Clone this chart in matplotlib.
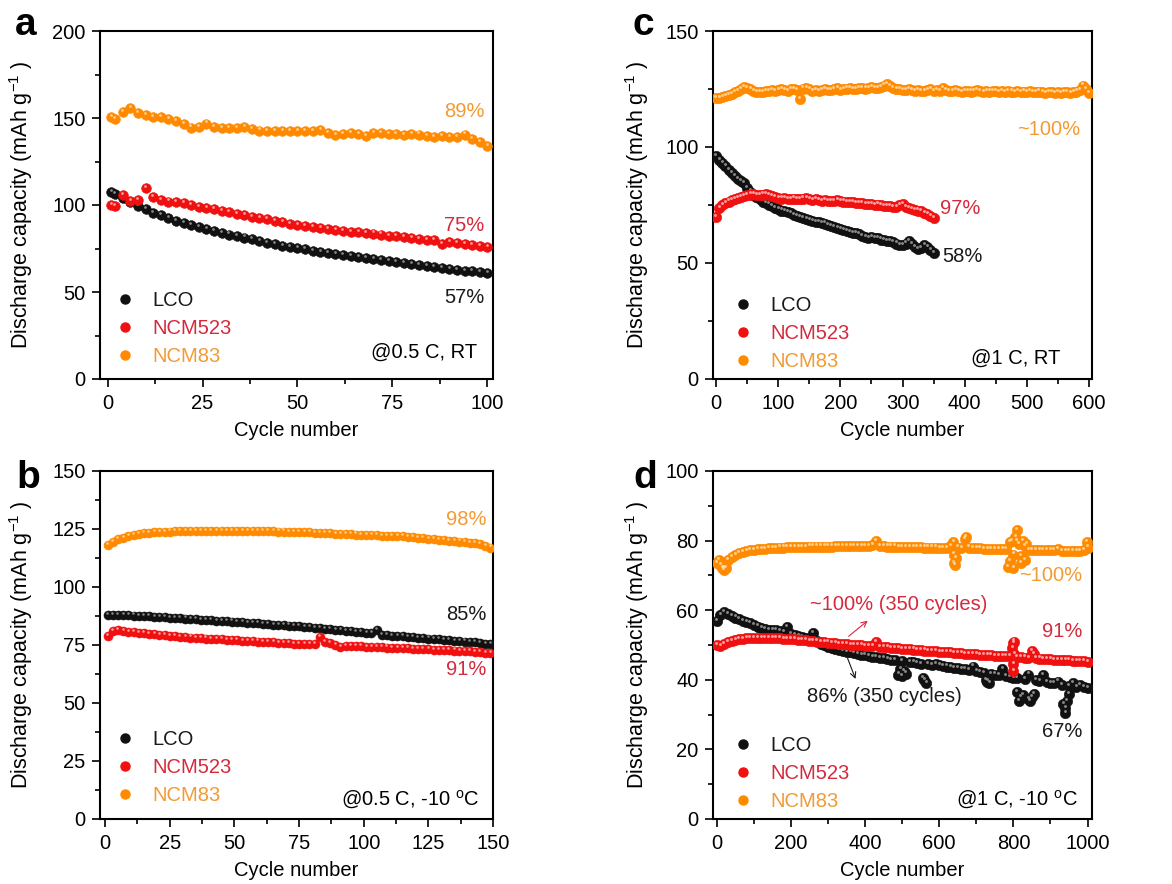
import numpy as np
import matplotlib
matplotlib.use("Agg")
import matplotlib.pyplot as plt
from matplotlib.ticker import MultipleLocator
from matplotlib.transforms import ScaledTranslation
from matplotlib.lines import Line2D

plt.rcParams['font.family'] = ['Liberation Sans', 'DejaVu Sans']
plt.rcParams['mathtext.fontset'] = 'custom'
plt.rcParams['mathtext.rm'] = 'Liberation Sans'
plt.rcParams['mathtext.default'] = 'regular'

SERIES = ["LCO", "NCM523", "NCM83"]

# ---------------- panel a: 0.5 C, RT ----------------
A_CYC = np.r_[1, np.arange(2, 101, 2)]
A_LCO = [107.5, 106.5, 104, 101.5, 99.5, 97.8,
         95.5, 94, 92.5, 91, 89.8, 88.5, 87.3, 86.2, 85, 84,
         83, 82.2, 81.3, 80.2, 79.3, 78.2, 77.3, 76.5, 75.8, 75.2,
         74.5, 73.8, 73.1, 72.3, 71.8, 71.2, 70.6, 70, 69.5, 69.2,
         68.5, 67.9, 67.3, 66.6, 66, 65.5, 65, 64.4, 63.8, 63.2,
         62.8, 62.3, 61.9, 61.4, 61]
A_NCM523 = [100.2, 99.5, 105.5, 102.5, 103, 110,
            104.5, 103, 102, 101.5, 101, 100, 99, 98.2, 97.5, 96.5,
            96, 95, 94, 93.3, 92.5, 91.8, 91, 90.2, 89.3, 88.6,
            88, 87.2, 86.6, 86, 85.6, 85, 84.7, 84.4, 84, 83.6,
            83, 82.4, 82, 81.6, 81, 80.5, 80.1, 79.8, 77.5, 78.5,
            78, 77.5, 77, 76.3, 75.8]
A_NCM83 = [150.5, 149.5, 153.5, 155.5, 153, 151.5,
           150.5, 150.8, 149.5, 148, 146.5, 144.5, 145, 146.8, 145, 144.2,
           144, 144.3, 144.6, 143.5, 142.8, 142.5, 142.5, 142.6, 142.5, 142.4,
           142.3, 142.5, 143, 141.5, 140.4, 141, 141.3, 140.8, 139.5, 141.5,
           141.3, 140.8, 140.6, 140.4, 141, 140.5, 139.8, 139.3, 139.5, 139.3,
           139.2, 140.5, 137.8, 136, 134]

# ---------------- panel b: 0.5 C, -10 C ----------------
B_CYC = np.arange(1, 151, 2)
B_NCM83 = [118, 119.5, 120.5, 121.3, 121.9, 122.4, 122.8, 123.1, 123.3, 123.5,
           123.6, 123.8, 123.9, 124, 124, 124.1, 124.1, 124.2, 124.2, 124.2,
           124.2, 124.2, 124.3, 124.3, 124.3, 124.2, 124.2, 124.2, 124.1, 124.1,
           124, 124, 124, 123.9, 123.9, 123.8, 123.8, 123.7, 123.6, 123.5,
           123.4, 123.3, 123.2, 123.1, 123, 122.9, 122.8, 122.7, 122.6, 122.5,
           122.4, 122.3, 122.2, 122.1, 122.1, 122, 121.9, 121.8, 121.6, 121.4,
           121.2, 121, 120.8, 120.6, 120.4, 120.2, 120, 119.8, 119.6, 119.4,
           119.1, 118.8, 118.4, 117.8, 117]
B_LCO = [87.8, 88, 88, 87.9, 87.8, 87.7, 87.6, 87.5, 87.3, 87.2,
         87.1, 86.9, 86.8, 86.7, 86.5, 86.4, 86.2, 86.1, 85.9, 85.8,
         85.6, 85.5, 85.3, 85.2, 85.1, 84.9, 84.8, 84.6, 84.5, 84.3,
         84.2, 84, 83.8, 83.7, 83.5, 83.4, 83.2, 83.1, 82.9, 82.7,
         82.5, 82.2, 81.9, 81.7, 81.5, 81.3, 81.1, 80.9, 80.7, 80.5,
         80.3, 80.1, 81.6, 79.4, 79.2, 79, 78.8, 78.9, 78.5, 78.3,
         78.1, 78, 77.8, 77.7, 77.5, 77.3, 77.1, 76.9, 76.7, 76.5,
         76.3, 76.1, 75.9, 75.6, 75.3]
B_NCM523 = [79, 81.2, 81.3, 80.9, 80.6, 80.4, 80.2, 80, 79.8, 79.6,
            79.4, 79.1, 78.9, 78.7, 78.5, 78.4, 78.2, 78.1, 77.9, 77.8,
            77.6, 77.5, 77.4, 77.3, 77.2, 77, 76.9, 76.8, 76.6, 76.5,
            76.4, 76.2, 76.1, 75.9, 75.8, 75.7, 75.6, 75.5, 75.4, 75.3,
            75.3, 78.3, 76.4, 75.8, 75.1, 74.2, 74.6, 74.6, 74.5, 74.4,
            74.3, 74.2, 74.1, 74, 73.9, 73.8, 73.7, 73.6, 73.5, 73.4,
            73.3, 73.2, 73.1, 73, 72.9, 72.8, 72.7, 72.6, 72.4, 72.3,
            72.2, 72, 71.9, 71.7, 71.5]

# ---------------- panel c: 1 C, RT ----------------
C_CYC_LONG = np.arange(0, 601, 5)
C_CYC_SHORT = np.arange(0, 351, 5)
C_NCM83 = [121, 121.3, 121.5, 122, 122.5, 123, 123.6, 124, 125, 125.8,
           125.5, 124.8, 124, 123.6, 123.5, 123.8, 124, 124.3, 124.5, 124.3,
           124.6, 124.8, 124.5, 124.2, 125, 124.8, 124.6, 120.5, 125.2, 125.6,
           124.8, 124, 124.6, 124.3, 124.5, 124.8, 124.4, 124.7, 125, 125.3,
           124.6, 124.9, 125.2, 125.6, 125, 124.9, 125.3, 125.5, 125.2, 125.5,
           125.8, 125.4, 125.6, 126, 126.5, 127, 126.2, 125.5, 125, 124.8,
           124.6, 124.4, 124.8, 124.5, 124.2, 124.6, 124.3, 124.1, 124.5, 124.8,
           124.2, 124.5, 124.3, 125.3, 124.5, 124, 124.2, 124.5, 124, 123.8,
           124.3, 124, 123.9, 124.3, 124.6, 124.1, 123.8, 124.2, 123.9, 124.3,
           124, 123.7, 124.1, 123.8, 124.2, 123.9, 123.6, 124, 123.7, 123.9,
           123.6, 124, 123.7, 123.5, 123.9, 123.6, 123.4, 123.8, 123.5, 123.3,
           123.7, 123.4, 123.8, 123.5, 123.2, 123.6, 123.9, 124.5, 126.5, 124.8,
           123.2]
C_LCO = [96, 94.5, 93, 91.6, 90.2, 88.7, 87.3, 86, 85.2, 84.5,
         82.2, 80.8, 79.5, 78.5, 77.5, 76.5, 75.8, 75.2, 74.5, 73.8,
         73.2, 72.6, 72.2, 71.8, 71.4, 70.8, 70.3, 69.8, 69.3, 68.9,
         68.5, 68.2, 67.8, 67.5, 67.2, 67, 66.4, 65.9, 65.4, 65,
         64.5, 64.1, 63.7, 63.3, 63, 62.8, 62.3, 61.7, 61.2, 60.8,
         61, 60.9, 60.6, 60.1, 59.7, 59.6, 59.4, 59, 58.4, 57.9,
         57.6, 58.4, 59.3, 58.2, 57, 56.2, 56.5, 57.6, 57, 55.5,
         54.3]
C_NCM523 = [70, 73.5, 75, 75.8, 76.5, 77, 77.5, 78, 78.5, 78.8,
            79.2, 79.5, 79.6, 79.4, 79.3, 79.5, 79.8, 79.4, 78.8, 78.3,
            78, 77.8, 77.9, 77.6, 77.7, 77.8, 77.5, 77.6, 77.8, 78,
            77.6, 77.2, 77.4, 77.1, 76.8, 77, 76.8, 76.6, 76.9, 77.1,
            76.7, 76.5, 76.3, 76.4, 76.1, 75.9, 76, 75.7, 75.5, 75.6,
            75.3, 75.1, 75.2, 74.9, 74.6, 74.7, 74.4, 74.2, 74.3, 74.8,
            75.5, 74.2, 73.6, 73.3, 73, 72.6, 72.2, 71.6, 71, 70.3,
            69.4]

# ---------------- panel d: 1 C, -10 C ----------------
D_CYC = np.arange(0, 1001, 10)
D_NCM83 = [73.5, 73, 72, 74.3, 75.2, 75.9, 76.3, 76.7, 77, 77.2,
           77.3, 77.5, 77.6, 77.7, 77.8, 77.9, 77.9, 78, 78, 78.1,
           78.1, 78.1, 78.2, 78.2, 78.2, 78.3, 78.3, 78.3, 78.3, 78.3,
           78.3, 78.3, 78.4, 78.4, 78.4, 78.4, 78.4, 78.4, 78.4, 78.4,
           78.4, 78.5, 78.6, 79.8, 78.5, 78.4, 78.3, 78.3, 78.3, 78.2,
           78.2, 78.2, 78.2, 78.1, 78.1, 78.1, 78, 78, 78, 78,
           77.9, 77.9, 77.9, 78.5, 76, 78, 77.9, 80.5, 78, 77.8,
           77.8, 77.8, 77.7, 77.7, 77.7, 77.7, 77.6, 77.6, 77.5, 79.5,
           76, 80, 75.5, 78.5, 77.4, 77.4, 77.3, 77.3, 77.3, 77.2,
           77.2, 77.2, 77.6, 77.1, 77.1, 77, 77, 77, 77.1, 77.3,
           78]
D_NCM83_OUT_CYC = [5, 15, 20, 25, 638, 640, 642, 645, 672, 785, 790,
                   795, 800, 805, 810, 815, 820, 825, 830, 835, 998]
D_NCM83_OUT_CAP = [74.5, 72, 71.5, 72, 79.5, 73.5, 73, 75, 81, 72.5, 74,
                   80, 72.2, 81, 83, 79, 73.5, 80, 74.5, 79, 79.5]
D_LCO = [57, 58.5, 59.5, 58.8, 58.3, 57.9, 57.4, 56.9, 56.6, 56.2,
         55.7, 55.3, 55, 54.6, 54.3, 54.3, 54.2, 53.9, 53.7, 55.2,
         53.1, 52.8, 52.5, 52.2, 51.9, 51.6, 53.5, 51.1, 50.4, 49.9,
         49.5, 49.2, 48.9, 48.6, 48.3, 48.1, 47.9, 47.6, 47.4, 47.2,
         47, 46.8, 46.6, 46.5, 46.3, 46.2, 46, 45.8, 45.6, 41.5,
         45.4, 41.8, 45.2, 45, 44.8, 44.6, 40, 44.4, 44.3, 44.6,
         44.2, 44, 43.8, 43.6, 43.5, 43.3, 43.1, 43, 42.8, 43.8,
         42.4, 42.2, 42, 39.5, 41.7, 41.5, 41.3, 43, 41, 40.8,
         40.6, 40.5, 35, 40.2, 41.5, 35, 39.8, 39.7, 41.3, 39.3,
         39.2, 39, 39.5, 38.6, 32, 38.3, 39.2, 38, 38.5, 37.8,
         37.6]
D_LCO_OUT_CYC = [495, 500, 505, 555, 565, 725, 735, 810, 815, 825,
                 840, 845, 855, 935, 940, 945, 950]
D_LCO_OUT_CAP = [43, 41, 42.5, 40.5, 39, 40, 39, 36.5, 34, 35.5,
                 34.5, 34, 36, 33, 30.5, 34, 36]
D_NCM523 = [50, 49.7, 50.3, 50.8, 51.2, 51.5, 51.7, 51.8, 51.9, 52,
            52, 52, 52, 52, 52, 51.9, 51.9, 51.9, 51.8, 51.8,
            51.7, 51.6, 51.5, 51.4, 51.3, 51.2, 51.1, 51, 50.9, 50.8,
            50.7, 50.6, 50.5, 50.4, 50.3, 50.2, 50.1, 50, 49.9, 49.9,
            49.8, 49.7, 49.6, 50.9, 49.5, 49.4, 49.3, 49.2, 49.1, 49,
            48.9, 48.8, 48.8, 48.7, 48.6, 48.5, 48.4, 48.3, 48.3, 48.2,
            48.1, 48, 47.9, 47.9, 47.8, 47.7, 47.6, 47.5, 47.5, 47.4,
            47.3, 47.2, 47.2, 47.1, 47, 46.9, 46.9, 46.8, 46.7, 46.7,
            50.5, 46.5, 46.5, 46.4, 46.3, 48.3, 46.2, 46.1, 46, 46,
            45.9, 45.8, 45.8, 45.7, 45.6, 45.6, 45.5, 45.4, 45.4, 45.3,
            45.2]
D_NCM523_OUT_CYC = [797, 800, 800, 802, 803, 855]
D_NCM523_OUT_CAP = [49, 42.5, 44.5, 51, 47.5, 47.5]

# ---------------- styling ----------------
MARKER_COL = {"LCO": "#111111", "NCM523": "#f01010", "NCM83": "#ff8a00"}
HL_COL = {"LCO": "#b0b0b0", "NCM523": "#ffd0d0", "NCM83": "#ffe6c0"}
TEXT_COL = {"LCO": "#1a1a1a", "NCM523": "#d42a3c", "NCM83": "#f29b35"}
FS = 14.5
FS_YL = 15.5

fig = plt.figure(figsize=(11.72, 8.84), dpi=100)
W, H = 1172, 884


def make_ax(l, t, r, b):
    return fig.add_axes([l / W, 1 - b / H, (r - l) / W, (b - t) / H])


def spheres(ax, x, y, name, ms, z):
    ax.plot(x, y, ls='none', marker='o', ms=ms, mfc=MARKER_COL[name],
            mec=MARKER_COL[name], mew=0.4, zorder=z)
    off = ScaledTranslation(-0.5 / 72, 1.5 / 72, fig.dpi_scale_trans)
    ax.plot(x, y, ls='none', marker='o', ms=ms * 0.28, mfc=HL_COL[name],
            mec='none', alpha=0.75, zorder=z + 0.1, transform=ax.transData + off)


def style(ax, xlim, ylim, xmaj, xmin, ymaj, ymin, ylx):
    ax.set_xlim(*xlim)
    ax.set_ylim(*ylim)
    ax.xaxis.set_major_locator(MultipleLocator(xmaj))
    ax.xaxis.set_minor_locator(MultipleLocator(xmin))
    ax.yaxis.set_major_locator(MultipleLocator(ymaj))
    ax.yaxis.set_minor_locator(MultipleLocator(ymin))
    ax.tick_params(which='both', direction='out', top=False, right=False,
                   labelsize=FS, width=1.2)
    ax.tick_params(which='major', length=5.5, pad=5)
    ax.tick_params(which='minor', length=3.5)
    for s in ax.spines.values():
        s.set_linewidth(1.5)
    ax.set_xlabel('Cycle number', fontsize=FS)
    ax.set_ylabel('Discharge capacity (mAh g$^{-1}$ )', fontsize=FS_YL)
    ax.xaxis.set_label_coords(0.5, -0.122)
    ax.yaxis.set_label_coords(ylx, 0.5)


def legend(ax, x0, y0):
    handles = [Line2D([], [], ls='none', marker='o', ms=6.5, mfc=MARKER_COL[n],
                      mec=MARKER_COL[n]) for n in SERIES]
    ax.legend(handles, SERIES, loc='upper left', bbox_to_anchor=(x0, y0),
              frameon=False, fontsize=FS, handlelength=1.0, handletextpad=0.85,
              labelspacing=0.45, borderpad=0, borderaxespad=0,
              labelcolor=[TEXT_COL[n] for n in SERIES])


# ---- a ----
ax = make_ax(100, 31, 493, 379)
spheres(ax, A_CYC, A_LCO, "LCO", 7, 3)
spheres(ax, A_CYC, A_NCM523, "NCM523", 7, 4)
spheres(ax, A_CYC, A_NCM83, "NCM83", 7, 5)
style(ax, (-2, 101.5), (0, 200), 25, 12.5, 50, 25, -0.165)
legend(ax, 0.039, 0.254)
ax.text(99.2, 154, '89%', color=TEXT_COL["NCM83"], fontsize=FS, ha='right', va='center')
ax.text(99.2, 88, '75%', color=TEXT_COL["NCM523"], fontsize=FS, ha='right', va='center')
ax.text(99.2, 47, '57%', color=TEXT_COL["LCO"], fontsize=FS, ha='right', va='center')
ax.text(0.959, 0.078, '@0.5 C, RT', transform=ax.transAxes, fontsize=FS, ha='right', va='center')

# ---- c ----
ax = make_ax(713, 31, 1092, 379)
spheres(ax, C_CYC_SHORT, C_LCO, "LCO", 7.5, 3)
spheres(ax, C_CYC_SHORT, C_NCM523, "NCM523", 7.5, 4)
spheres(ax, C_CYC_LONG, C_NCM83, "NCM83", 7.5, 5)
style(ax, (-5, 605), (0, 150), 100, 50, 50, 25, -0.164)
legend(ax, 0.053, 0.238)
ax.text(586, 107.4, '~100%', color=TEXT_COL["NCM83"], fontsize=FS, ha='right', va='center')
ax.text(361, 73.6, '97%', color=TEXT_COL["NCM523"], fontsize=FS, ha='left', va='center')
ax.text(364, 52.8, '58%', color=TEXT_COL["LCO"], fontsize=FS, ha='left', va='center')
ax.text(0.916, 0.060, '@1 C, RT', transform=ax.transAxes, fontsize=FS, ha='right', va='center')

# ---- b ----
ax = make_ax(100, 471, 493, 819)
spheres(ax, B_CYC, B_LCO, "LCO", 6.5, 3)
spheres(ax, B_CYC, B_NCM523, "NCM523", 6.5, 4)
spheres(ax, B_CYC, B_NCM83, "NCM83", 6.5, 5)
style(ax, (-2, 150), (0, 150), 25, 12.5, 25, 12.5, -0.165)
legend(ax, 0.039, 0.256)
ax.text(147.4, 129, '98%', color=TEXT_COL["NCM83"], fontsize=FS, ha='right', va='center')
ax.text(147.4, 88, '85%', color=TEXT_COL["LCO"], fontsize=FS, ha='right', va='center')
ax.text(147.4, 64.3, '91%', color=TEXT_COL["NCM523"], fontsize=FS, ha='right', va='center')
ax.text(0.967, 0.055, '@0.5 C, -10 $^{o}$C', transform=ax.transAxes, fontsize=FS, ha='right', va='center')

# ---- d ----
ax = make_ax(713, 471, 1092, 819)
spheres(ax, D_CYC, D_LCO, "LCO", 7.5, 3)
spheres(ax, D_LCO_OUT_CYC, D_LCO_OUT_CAP, "LCO", 7.5, 3)
spheres(ax, D_CYC, D_NCM523, "NCM523", 7.5, 4)
spheres(ax, D_NCM523_OUT_CYC, D_NCM523_OUT_CAP, "NCM523", 7.5, 4)
spheres(ax, D_CYC, D_NCM83, "NCM83", 7.5, 5)
spheres(ax, D_NCM83_OUT_CYC, D_NCM83_OUT_CAP, "NCM83", 7.5, 5)
style(ax, (-10, 1012), (0, 100), 200, 100, 20, 10, -0.164)
legend(ax, 0.053, 0.238)
ax.text(986, 70.1, '~100%', color=TEXT_COL["NCM83"], fontsize=FS, ha='right', va='center')
ax.text(986, 53.9, '91%', color=TEXT_COL["NCM523"], fontsize=FS, ha='right', va='center')
ax.text(986, 25.2, '67%', color=TEXT_COL["LCO"], fontsize=FS, ha='right', va='center')
ax.text(492, 61.7, '~100% (350 cycles)', color=TEXT_COL["NCM523"], fontsize=FS, ha='center', va='center', zorder=10)
ax.text(451, 35.2, '86% (350 cycles)', color=TEXT_COL["LCO"], fontsize=FS, ha='center', va='center', zorder=10)
ax.annotate('', xy=(413, 57.5), xytext=(350, 52),
            arrowprops=dict(arrowstyle='->', color=TEXT_COL["NCM523"], lw=0.8), zorder=10)
ax.annotate('', xy=(377, 39.5), xytext=(350, 47),
            arrowprops=dict(arrowstyle='->', color=TEXT_COL["LCO"], lw=0.8), zorder=10)
ax.text(0.963, 0.055, '@1 C, -10 $^{o}$C', transform=ax.transAxes, fontsize=FS, ha='right', va='center')

# panel letters
for letter, x, y in [('a', 15, 35), ('c', 633, 35), ('b', 16, 488), ('d', 633, 488)]:
    fig.text(x / W, 1 - y / H, letter, fontsize=28, fontweight='bold', ha='left', va='baseline')

fig.savefig('out.png', dpi=100)
